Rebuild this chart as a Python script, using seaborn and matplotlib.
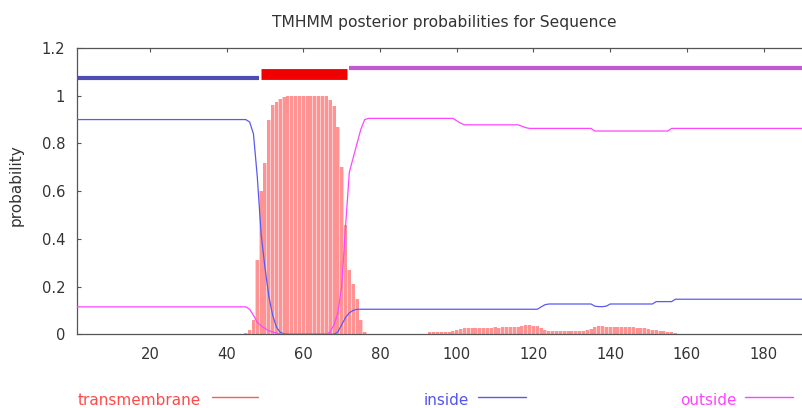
import matplotlib
matplotlib.use("Agg")
import matplotlib.pyplot as plt
import seaborn as sns
import pandas as pd
from matplotlib.lines import Line2D

# ---------------- data ----------------
position = list(range(1, 191))

inside = ([0.9] * 45
          + [0.89, 0.84, 0.66, 0.42, 0.28, 0.16, 0.08, 0.03, 0.008, 0.002]
          + [0.0] * 13
          + [0.01, 0.04, 0.07, 0.09, 0.1]
          + [0.105] * 48
          + [0.115, 0.124]
          + [0.127] * 12
          + [0.118, 0.116, 0.116, 0.118]
          + [0.127] * 12
          + [0.137] * 5
          + [0.147] * 34)

outside = ([0.115] * 45
           + [0.105, 0.08, 0.05, 0.035, 0.025, 0.015, 0.01, 0.005, 0.002, 0.0]
           + [0.0] * 11
           + [0.01, 0.04, 0.09, 0.2, 0.45, 0.68, 0.74, 0.8, 0.86, 0.9]
           + [0.905] * 23
           + [0.895, 0.885, 0.878]
           + [0.878] * 14
           + [0.872, 0.866]
           + [0.863] * 17
           + [0.852] * 20
           + [0.863] * 35)

transmembrane = ([0.0] * 44
                 + [0.005, 0.02, 0.06, 0.31, 0.6, 0.72, 0.9, 0.96, 0.975, 0.985, 0.995]
                 + [1.0] * 11
                 + [0.98, 0.955, 0.87, 0.7, 0.46, 0.27, 0.21, 0.15, 0.06, 0.01]
                 + [0.0] * 16
                 + [0.008] * 6
                 + [0.012, 0.018, 0.022, 0.025]
                 + [0.027, 0.027, 0.028, 0.027, 0.028, 0.028, 0.028, 0.029, 0.028,
                    0.029, 0.03, 0.03, 0.031, 0.032]
                 + [0.034, 0.037, 0.038, 0.036, 0.033, 0.027, 0.02]
                 + [0.015] * 10
                 + [0.018, 0.024, 0.03, 0.035, 0.035]
                 + [0.031, 0.031, 0.03, 0.03, 0.03, 0.03, 0.029, 0.029, 0.028, 0.027]
                 + [0.025, 0.023, 0.02, 0.018, 0.015, 0.012, 0.01, 0.008, 0.005, 0.003]
                 + [0.0] * 32)

topology_class = ["inside", "transmembrane", "outside"]
topology_start = [1, 49, 72]
topology_end = [48.4, 71.3, 190]

x_ticks = [20, 40, 60, 80, 100, 120, 140, 160, 180]
y_ticks = [0, 0.2, 0.4, 0.6, 0.8, 1.0, 1.2]
y_tick_labels = ["0", "0.2", "0.4", "0.6", "0.8", "1", "1.2"]

title = "TMHMM posterior probabilities for Sequence"
y_label = "probability"
legend_labels = ["transmembrane", "inside", "outside"]

# ---------------- styles ----------------
line_colors = {"inside": "#5a5af2", "outside": "#ff45ff", "transmembrane": "#ff5a5a"}
text_colors = {"inside": "#5555ee", "outside": "#ff44ff", "transmembrane": "#ff4a4a"}
band_style = {
    "inside": dict(y=1.075, color="#4d4db4", lw=3.0),
    "transmembrane": dict(y=1.093, color="#f00000", lw=7.8),
    "outside": dict(y=1.117, color="#c458d4", lw=3.0),
}

sns.set_style("white")
plt.rcParams["font.family"] = ["DejaVu Sans"]

df = pd.DataFrame({"position": position, "inside": inside,
                   "outside": outside, "transmembrane": transmembrane})

W, H = 802, 408
fig = plt.figure(figsize=(W / 100, H / 100), dpi=100)
ax_left, ax_right, ax_top, ax_bot = 77, 802, 48, 334.3
ax = fig.add_axes([ax_left / W, 1 - ax_bot / H, (ax_right - ax_left) / W, (ax_bot - ax_top) / H])

# transmembrane impulses
ax.bar(df["position"], df["transmembrane"], width=1.0, color="#ffcfcf", linewidth=0, zorder=1)
ax.bar(df["position"], df["transmembrane"], width=0.78, color="#ff9393", linewidth=0, zorder=2)

# inside / outside curves
sns.lineplot(data=df, x="position", y="inside", color=line_colors["inside"],
             linewidth=0.9, ax=ax, zorder=3)
sns.lineplot(data=df, x="position", y="outside", color=line_colors["outside"],
             linewidth=0.9, ax=ax, zorder=3)

# topology bands
for cls, s, e in zip(topology_class, topology_start, topology_end):
    st = band_style[cls]
    ax.hlines(st["y"], s, e, colors=st["color"], linewidth=st["lw"], zorder=4,
              capstyle="butt")

ax.set_xlim(1, 190)
ax.set_ylim(0, 1.2)
ax.set_xticks(x_ticks)
ax.set_xticklabels([str(t) for t in x_ticks])
ax.set_yticks(y_ticks)
ax.set_yticklabels(y_tick_labels)
ax.set_xlabel("")
ax.set_ylabel(y_label, fontsize=11, color="#333333")
ax.yaxis.set_label_coords(-0.074, 0.52)

spine_c = "#555555"
for side in ["left", "top", "bottom"]:
    ax.spines[side].set_color(spine_c)
    ax.spines[side].set_linewidth(0.9)
ax.spines["right"].set_visible(False)
ax.tick_params(axis="both", direction="in", length=3, width=0.8, color=spine_c,
               labelsize=10.6, labelcolor="#333333")
ax.tick_params(axis="x", top=True, pad=9)
ax.tick_params(axis="y", left=True, right=False, pad=8.5)

ax.set_title(title, fontsize=11.2, color="#333333", x=0.506, pad=15)

# legend (gnuplot-style, below the plot)
legend_text_x = [78, 424, 680]
legend_line_x = [(212, 258), (478, 526), (745, 793)]
base_y = 1 - 405 / H
line_y = 1 - 397 / H
for lab, tx, (l0, l1) in zip(legend_labels, legend_text_x, legend_line_x):
    fig.text(tx / W, base_y, lab, color=text_colors[lab], fontsize=11,
             ha="left", va="baseline")
    fig.add_artist(Line2D([l0 / W, l1 / W], [line_y, line_y],
                          color=line_colors[lab], linewidth=1.0,
                          transform=fig.transFigure))

fig.savefig("out.png", dpi=100)
